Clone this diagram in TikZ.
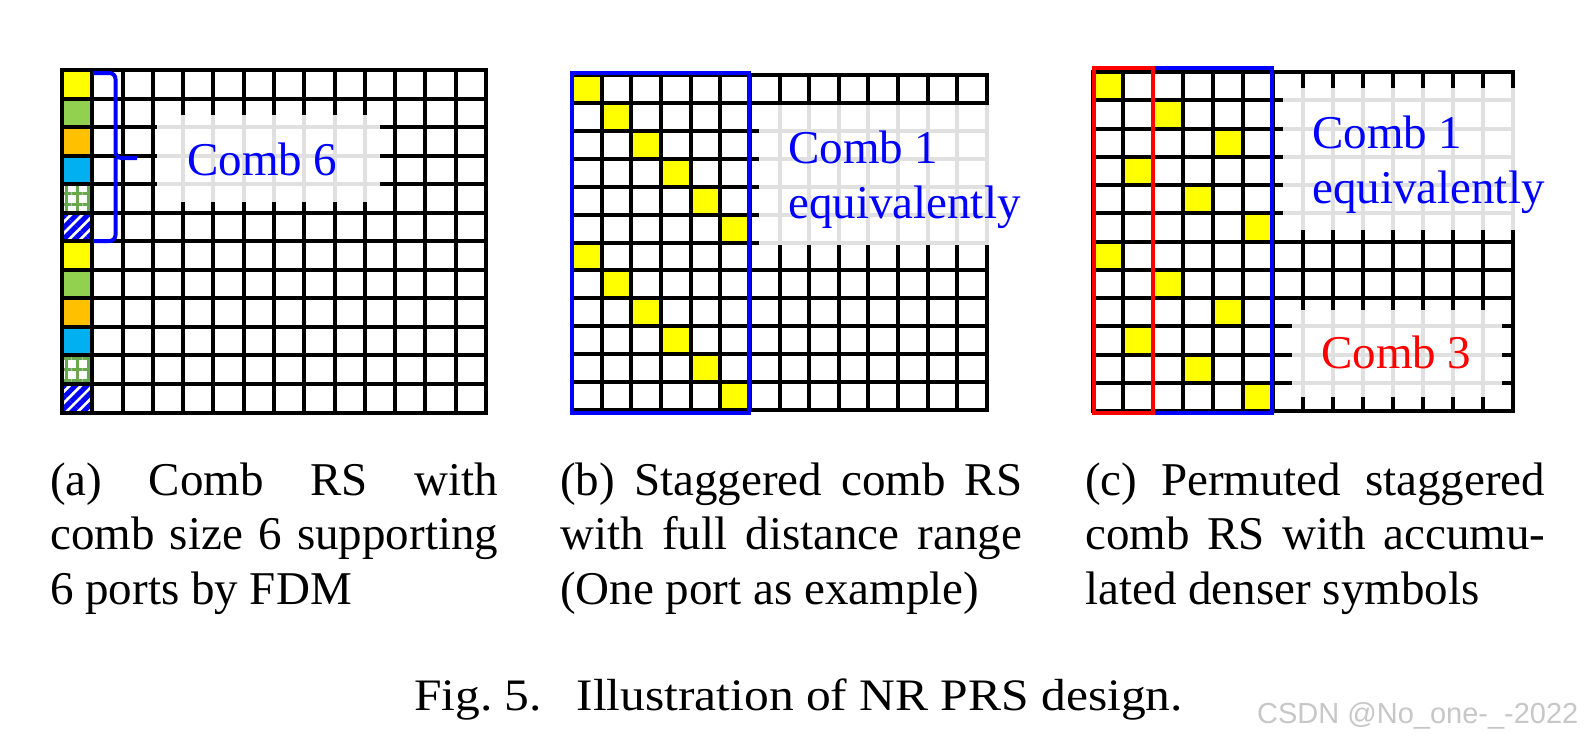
\documentclass[tikz,border=0pt]{standalone}
\usepackage{fontspec}
\setmainfont{Liberation Serif}
\newfontfamily\wmfont{Liberation Sans}
\usepackage{graphicx}
\usetikzlibrary{patterns.meta}

\definecolor{combyellow}{HTML}{FFFF00}
\definecolor{combgreen}{HTML}{92D050}
\definecolor{comborange}{HTML}{FFC000}
\definecolor{combcyan}{HTML}{00B0F0}
\definecolor{hatchgreen}{HTML}{6AA84F}
\definecolor{combblue}{HTML}{0000FF}
\definecolor{combred}{HTML}{FF0000}

\tikzset{
	gridline/.style={line width=4pt, line cap=rect},
	labelbox/.style={fill=white, fill opacity=0.88},
	combtext/.style={font=\fontsize{47}{55}\selectfont, inner sep=0pt, align=left},
	subcap/.style={font=\fontsize{47}{54.5}\selectfont, inner sep=0pt, align=justify, anchor=north west},
	portbox/.style={line width=4pt},
	portone/.style={fill=combyellow},
	porttwo/.style={fill=combgreen},
	portthree/.style={fill=comborange},
	portfour/.style={fill=combcyan},
	portfive/.style={pattern={Hatch[distance=11pt, line width=3pt]}, pattern color=hatchgreen},
	portsix/.style={pattern={Lines[angle=45, distance=8pt, line width=5pt]}, pattern color=combblue},
}

% #5 x #6 cells between (#1,#2) and (#3,#4)
\def\rsgrid(#1,#2)(#3,#4)(#5,#6){%
	\foreach \i in {0,...,#5}{\draw[gridline] ({#1+\i*(#3-#1)/#5},#2) -- ({#1+\i*(#3-#1)/#5},#4);}%
	\foreach \j in {0,...,#6}{\draw[gridline] (#1,{#2+\j*(#4-#2)/#6}) -- (#3,{#2+\j*(#4-#2)/#6});}%
}

\begin{document}
\begin{tikzpicture}[x=1pt, y=-1pt]
		%%%%% START %%%%%
		\useasboundingbox (0,0) rectangle (1584,744);
		
		% (a)
		\foreach \r/\p in {0/portone,1/porttwo,2/portthree,3/portfour,4/portfive,5/portsix,6/portone,7/porttwo,8/portthree,9/portfour,10/portfive,11/portsix}
			\path[\p] (62,{70+\r*28.54}) rectangle ++(30.29,28.54);
		\rsgrid(62,70)(486,412.5)(14,12)
		\fill[labelbox] (157,115) rectangle (380,202);
		\node[combtext, text=combblue, anchor=base west] (combsix) at (187,175) {Comb 6};
		\draw[combblue, line width=4pt, rounded corners=6pt] (93,73) -| (115.5,158) -- (137,158) (93,241) -| (115.5,158);
		
		% (b)
		\foreach \r in {0,...,11}{
			\pgfmathtruncatemacro\c{mod(\r,6)}
			\fill[combyellow] ({572+\c*29.643},{75+\r*27.92}) rectangle ++(29.643,27.92);
		}
		\rsgrid(572,75)(987,410)(14,12)
		\fill[labelbox] (759,105) rectangle (1020,245);
		\node[combtext, text=combblue, anchor=north west] (combone) at (788,131) {Comb 1\\equivalently};
		\draw[portbox, combblue] (572,72.5) rectangle (748.5,412.5);
		
		% (c)
		\foreach \r/\c in {0/0,1/2,2/4,3/1,4/3,5/5,6/0,7/2,8/4,9/1,10/3,11/5}
			\fill[combyellow] ({1093+\c*30},{72+\r*28.25}) rectangle ++(30,28.25);
		\rsgrid(1093,72)(1513,411)(14,12)
		\fill[labelbox] (1283,88) rectangle (1545,230);
		\fill[labelbox] (1292,310) rectangle (1502,397);
		\node[combtext, text=combblue, anchor=north west] (permone) at (1312,116) {Comb 1\\equivalently};
		\node[combtext, text=combred, anchor=base west] (permthree) at (1321,368) {Comb 3};
		\draw[line width=3.8pt, combblue] (1153,67.7) rectangle (1272,413.3);
		\draw[line width=3.8pt, combred] (1094,67.7) rectangle (1153,413.3);
		
		% captions
		\node[subcap, text width=448pt] (capa) at (50,462.5) {(a) Comb RS with\linebreak comb size 6 supporting\linebreak 6 ports by FDM};
		\node[subcap, text width=462pt] (capb) at (560,462.5) {(b) Staggered comb RS\linebreak with full distance range\linebreak (One port as example)};
		\node[subcap, text width=460pt] (capc) at (1085,462.5) {(c) Permuted staggered\linebreak comb RS with accumu-\linebreak lated denser symbols};
		\node[anchor=base, inner sep=0pt, font=\fontsize{45}{50}\selectfont] (figcap) at (798.5,710) {\scalebox{1.1}[1]{Fig.~5.\hspace{0.7em}Illustration of NR PRS design.}};
		\node[anchor=base west, inner sep=0pt, font=\wmfont\fontsize{29}{33}\selectfont, text=black!22] (csdn) at (1257,723) {CSDN @No\_one-\_-2022};
		
		%%%%% END %%%%%
	\end{tikzpicture}
\end{document}
